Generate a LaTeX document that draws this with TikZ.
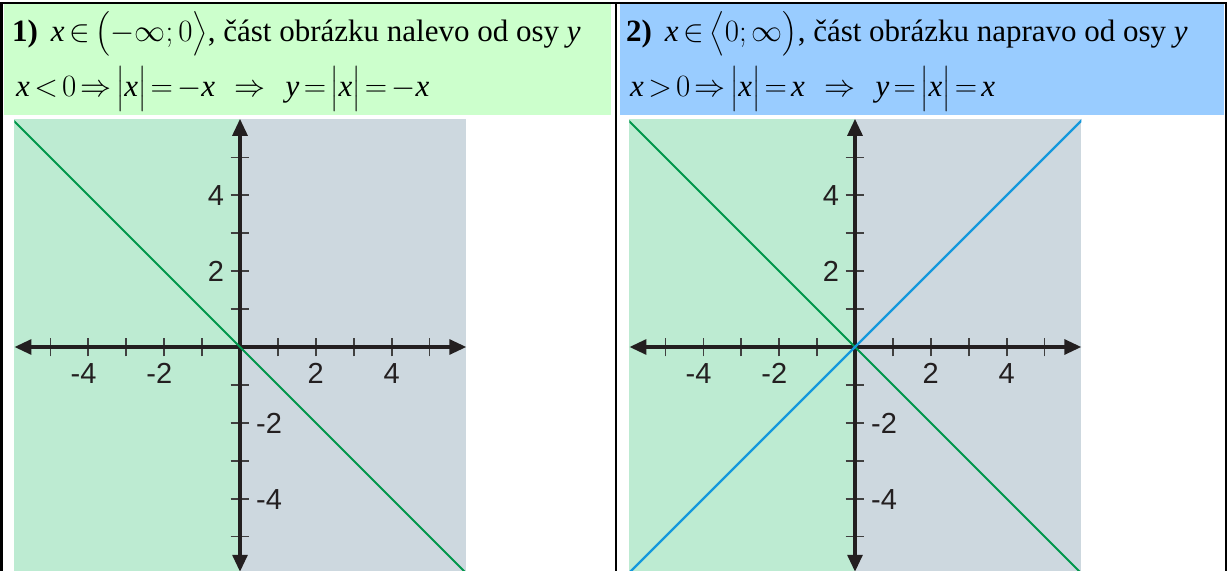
\documentclass[tikz,border=0pt]{standalone}
\usepackage{fix-cm}
\usepackage{amsmath}
\usepackage{fontspec}
\setmainfont{Liberation Serif}
\newfontfamily\axfont{Liberation Sans}
\usetikzlibrary{arrows.meta}
\definecolor{hdrgreen}{HTML}{CCFFCC}
\definecolor{hdrblue}{HTML}{99CCFF}
\definecolor{bggreen}{HTML}{BDEBD2}
\definecolor{bggray}{HTML}{CDD8DF}
\definecolor{lngreen}{HTML}{00964B}
\definecolor{lnblue}{HTML}{1598DC}
\definecolor{axcol}{HTML}{231F20}
\definecolor{tickcol}{HTML}{404040}
\newcommand{\ix}{\textit{x}}
\newcommand{\iy}{\textit{y}}
\newcommand{\tightmath}{\thickmuskip=2.5mu\medmuskip=2mu}
\newcommand{\myaxes}[1]{%
  \fill[bggreen] (-5.95,-6.5) rectangle (0,6.02);
  \fill[bggray] (0,-6.5) rectangle (5.97,6.02);
  \coordinate (#1L) at (-5.95,0);
  \coordinate (#1R) at (5.97,0);
  \coordinate (#1T) at (0,6.02);
  \coordinate (#1B) at (0,-5.93);
  \coordinate (#1O) at (0,0);
  \foreach \i in {-5,...,-1,1,2,...,5} {
    \draw[tickmark] (\i,-0.25) -- (\i,0.25);
    \draw[tickmark] (-0.25,\i) -- (0.25,\i);
  }
  \draw[axisline] (#1L) -- (#1R);
  \draw[axisline] (#1B) -- (#1T);
  \node[ticklbl, anchor=base] (#1xm4) at (-4,-0.976) {\llap{-}4};
  \node[ticklbl, anchor=base] (#1xm2) at (-2,-0.976) {\llap{-}2};
  \node[ticklbl, anchor=base] (#1xp2) at (2,-0.976) {2};
  \node[ticklbl, anchor=base] (#1xp4) at (4,-0.976) {4};
  \node[ticklbl, anchor=base east] (#1yp4) at (-0.42,3.723) {4};
  \node[ticklbl, anchor=base east] (#1yp2) at (-0.42,1.723) {2};
  \node[ticklbl, anchor=base west] (#1ym2) at (0.42,-2.277) {-2};
  \node[ticklbl, anchor=base west] (#1ym4) at (0.42,-4.277) {-4};
}
\begin{document}
\begin{tikzpicture}[x=1bp,y=-1bp,
  border/.style={draw=black, line width=2.2bp},
  hdrtext/.style={inner sep=0pt, anchor=base west, font=\fontsize{31bp}{37bp}\selectfont\tightmath},
  tickmark/.style={draw=tickcol, line width=1.8bp},
  axisline/.style={draw=axcol, line width=3.2bp, {Triangle[length=17bp,width=15bp]}-{Triangle[length=17bp,width=15bp]}},
  ticklbl/.style={inner sep=0pt, text=axcol, font=\axfont\fontsize{29bp}{34bp}\selectfont},
  gline/.style={draw=lngreen, line width=2bp},
  bline/.style={draw=lnblue, line width=2.2bp}]
\clip (0,0) rectangle (1227,571);
\fill[white] (0,0) rectangle (1227,571);
% headers
\fill[hdrgreen] (4,4) rectangle (611,115);
\fill[hdrblue] (620,4) rectangle (1224,115);
\node[hdrtext] (l1) at (12,41.5) {\textbf{1)}\ \,$\ix\,{\in}\,\bigl(-\infty{;}\,0\bigr\rangle$, část obrázku nalevo od osy \iy};
\node[hdrtext] (l2) at (16,96.7) {$\ix<0\Rightarrow\bigl|\ix\bigr|=-\ix\ \ \Rightarrow\ \ \iy=\bigl|\ix\bigr|=-\ix$};
\node[hdrtext] (r1) at (626,41.5) {\textbf{2)}\ \,$\ix\,{\in}\,\bigl\langle 0{;}\,\infty\bigr)$, část obrázku napravo od osy \iy};
\node[hdrtext] (r2) at (630,96.7) {$\ix>0\Rightarrow\bigl|\ix\bigr|=\ix\ \ \Rightarrow\ \ \iy=\bigl|\ix\bigr|=\ix$};
% left plot
\begin{scope}[shift={(240,347)}, x=37.9bp, y=37.9bp]
  \myaxes{a}
  \coordinate (aGs) at (-6.5,6.5);
  \coordinate (aGe) at (6.5,-6.5);
  \begin{scope}
    \clip (-5.95,-6.5) rectangle (5.97,6.02);
    \draw[gline] (aGs) -- (aGe);
  \end{scope}
\end{scope}
% right plot
\begin{scope}[shift={(855,347)}, x=37.9bp, y=37.9bp]
  \myaxes{b}
  \coordinate (bGs) at (-6.5,6.5);
  \coordinate (bGe) at (6.5,-6.5);
  \coordinate (bBs) at (-6.5,-6.5);
  \coordinate (bBe) at (6.5,6.5);
  \begin{scope}
    \clip (-5.95,-6.5) rectangle (5.97,6.02);
    \draw[gline] (bGs) -- (bGe);
    \draw[bline] (bBs) -- (bBe);
  \end{scope}
\end{scope}
% table borders
\coordinate (tl) at (0,3.3);
\coordinate (tr) at (1227,3.3);
\coordinate (ltop) at (1.6,3.3);
\coordinate (lbot) at (1.6,571);
\coordinate (mtop) at (616,3.3);
\coordinate (mbot) at (616,571);
\coordinate (rtop) at (1225.8,3.3);
\coordinate (rbot) at (1225.8,571);
\draw[border] (tl) -- (tr);
\draw[border, line width=3bp] (ltop) -- (lbot);
\draw[border] (mtop) -- (mbot);
\draw[border] (rtop) -- (rbot);
\end{tikzpicture}
\end{document}
